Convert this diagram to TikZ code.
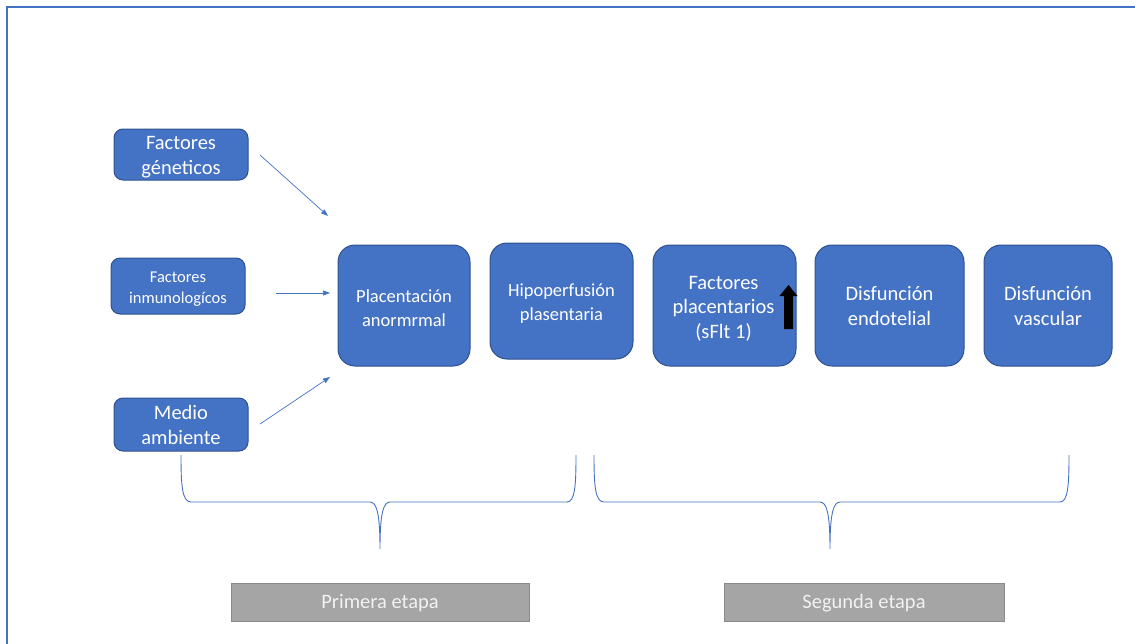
\documentclass[tikz,border=0pt]{standalone}
\usepackage{fontspec}
\setmainfont{Carlito}
\usetikzlibrary{arrows.meta}
\definecolor{boxblue}{HTML}{4472C4}
\definecolor{boxedge}{HTML}{2F528F}
\definecolor{gfill}{HTML}{A5A5A5}
\definecolor{gedge}{HTML}{8A8A8A}
\definecolor{gtext}{HTML}{F2F2F2}
\tikzset{
  bluebox/.style={draw=boxedge, line width=1pt, fill=boxblue, inner sep=0pt},
  smallbox/.style={bluebox, rounded corners=9pt, minimum width=134pt, minimum height=51pt},
  bigbox/.style={bluebox, rounded corners=17pt},
  boxtext/.style={text=white, align=center, inner sep=0pt},
  bigtext/.style={boxtext, font=\fontsize{20.5}{24.5}\selectfont},
  midtext/.style={boxtext, font=\fontsize{18.5}{23.5}\selectfont},
  stagebox/.style={draw=gedge, line width=1pt, fill=gfill, text=gtext, minimum width=298pt, minimum height=38pt, inner sep=0pt, font=\fontsize{20.5}{24}\selectfont},
  conn/.style={draw=boxblue, line width=0.7pt, -{Triangle[length=7pt,width=5pt]}},
  bracestyle/.style={draw=boxblue, line width=0.9pt},
}
\begin{document}
\begin{tikzpicture}[x=1pt,y=-1pt]
\useasboundingbox (0,0) rectangle (1135,643);
\begin{scope}
\clip (0,0) rectangle (1135,643);
\draw[boxblue, line width=1.6pt] (7,7) rectangle (1145,653);
\end{scope}
% left boxes
\node[smallbox] (gen) at (181,154.5) {};
\node[bigtext] (gent) at (181,157) {Factores\\géneticos};
\node[smallbox, minimum height=56pt] (inm) at (178,286) {};
\node[boxtext, font=\fontsize{16.5}{20.5}\selectfont] (inmt) at (178,289) {Factores\\inmunologícos};
\node[smallbox, minimum height=53pt] (med) at (181,424.5) {};
\node[bigtext] (medt) at (181,425) {Medio\\ambiente};
% main chain
\node[bigbox, minimum width=132pt, minimum height=121pt] (pla) at (404,305.5) {};
\node[midtext] (plat) at (404,308) {Placentación\\anormrmal};
\node[bigbox, minimum width=143pt, minimum height=116pt] (hip) at (561.5,301) {};
\node[midtext] (hipt) at (561.5,303.5) {Hipoperfusión\\plasentaria};
\node[bigbox, minimum width=143pt, minimum height=121pt] (fac) at (724.5,305.5) {};
\node[bigtext] (fact) at (723.5,308.5) {Factores\\placentarios\\(sFlt 1)};
\node[bigbox, minimum width=149pt, minimum height=121pt] (dis) at (889.5,305.5) {};
\node[bigtext] (dist) at (889.5,306) {Disfunción\\endotelial};
\node[bigbox, minimum width=128pt, minimum height=121pt] (vas) at (1048,305.5) {};
\node[bigtext] (vast) at (1048,306) {Disfunción\\vascular};
% black up arrow
\fill[black] (784,329) -- (793,329) -- (793,296) -- (797.5,296) -- (788.5,285) -- (779.5,296) -- (784,296) -- cycle;
% arrows
\coordinate (g1) at (260,155);
\coordinate (g2) at (328,216);
\coordinate (i1) at (276,293);
\coordinate (i2) at (330,293);
\coordinate (m1) at (260,424);
\coordinate (m2) at (330,377);
\draw[conn] (g1) -- (g2);
\draw[conn] (i1) -- (i2);
\draw[conn] (m1) -- (m2);
% braces
\draw[bracestyle] (181,455) .. controls (181,485) and (182,502) .. (191,502) -- (370,502)
  .. controls (377,502) and (380,515) .. (380,549)
  .. controls (380,515) and (383,502) .. (390,502) -- (567,502)
  .. controls (575,502) and (576,485) .. (576,455);
\draw[bracestyle] (594,455) .. controls (594,485) and (595,502) .. (604,502) -- (820,502)
  .. controls (827,502) and (830,515) .. (830,549)
  .. controls (830,515) and (833,502) .. (840,502) -- (1060,502)
  .. controls (1068,502) and (1069,485) .. (1069,455);
% stage boxes
\node[stagebox] (s1) at (380,602) {};
\node[boxtext, text=gtext, font=\fontsize{20.5}{24}\selectfont] (s1t) at (380,603.5) {Primera etapa};
\node[stagebox, minimum width=280pt] (s2) at (864,602) {};
\node[boxtext, text=gtext, font=\fontsize{20.5}{24}\selectfont] (s2t) at (864,603.5) {Segunda etapa};
\end{tikzpicture}
\end{document}
